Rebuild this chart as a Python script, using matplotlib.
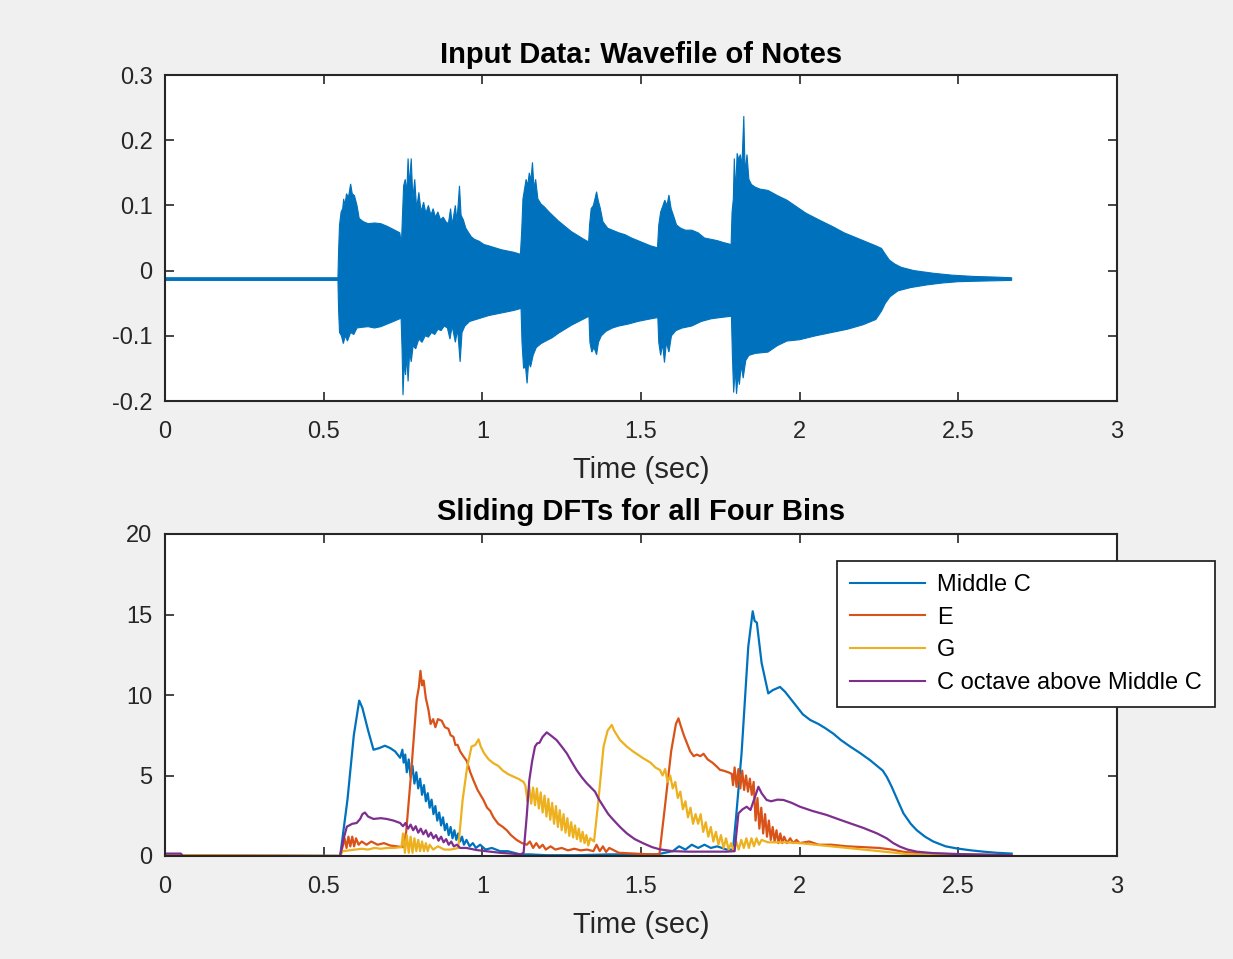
import matplotlib
matplotlib.use("Agg")
import matplotlib.pyplot as plt
import numpy as np

plt.rcParams['font.family'] = ['Liberation Sans', 'DejaVu Sans']

# ---------------- Data: waveform envelope ----------------
wave_up_t = [0.000, 0.545, 0.547, 0.550, 0.555, 0.560, 0.563, 0.567, 0.572, 0.578, 0.585, 0.590, 0.597, 0.605,
             0.612, 0.625, 0.640, 0.660, 0.680, 0.700, 0.720, 0.740, 0.745, 0.748, 0.752, 0.757, 0.762, 0.766,
             0.770, 0.776, 0.781, 0.787, 0.793, 0.800, 0.807, 0.815, 0.822, 0.830, 0.838, 0.845, 0.852, 0.860,
             0.868, 0.877, 0.885, 0.893, 0.900, 0.905, 0.915, 0.920, 0.928, 0.933, 0.940, 0.948, 0.957, 0.965,
             0.975, 0.990, 1.005, 1.020, 1.040, 1.060, 1.080, 1.100, 1.120, 1.124, 1.128, 1.133, 1.138, 1.143,
             1.148, 1.153, 1.158, 1.163, 1.168, 1.175, 1.185, 1.195, 1.210, 1.225, 1.240, 1.260, 1.280, 1.300,
             1.320, 1.335, 1.338, 1.343, 1.350, 1.355, 1.360, 1.365, 1.372, 1.380, 1.395, 1.410, 1.430, 1.450,
             1.470, 1.490, 1.510, 1.530, 1.552, 1.556, 1.562, 1.568, 1.575, 1.582, 1.588, 1.595, 1.602, 1.612,
             1.625, 1.640, 1.660, 1.680, 1.700, 1.720, 1.740, 1.760, 1.784, 1.787, 1.791, 1.794, 1.798, 1.803,
             1.808, 1.813, 1.818, 1.824, 1.828, 1.834, 1.840, 1.848, 1.860, 1.875, 1.900, 1.930, 1.960, 1.990,
             2.020, 2.060, 2.106, 2.140, 2.180, 2.200, 2.240, 2.258, 2.270, 2.283, 2.300, 2.320, 2.360, 2.420,
             2.480, 2.550, 2.620, 2.668]
wave_up_v = [-0.011, -0.011, 0.030, 0.070, 0.090, 0.095, 0.110, 0.100, 0.118, 0.112, 0.133, 0.118, 0.115, 0.100,
             0.080, 0.075, 0.072, 0.073, 0.072, 0.068, 0.063, 0.058, 0.040, 0.080, 0.130, 0.140, 0.120, 0.172,
             0.130, 0.172, 0.110, 0.140, 0.095, 0.120, 0.090, 0.105, 0.088, 0.100, 0.085, 0.095, 0.082, 0.090,
             0.078, 0.082, 0.075, 0.072, 0.095, 0.070, 0.100, 0.075, 0.130, 0.085, 0.078, 0.065, 0.058, 0.052,
             0.048, 0.045, 0.040, 0.038, 0.035, 0.032, 0.030, 0.028, 0.025, 0.060, 0.110, 0.125, 0.140, 0.130,
             0.150, 0.138, 0.166, 0.125, 0.140, 0.110, 0.102, 0.098, 0.090, 0.083, 0.076, 0.068, 0.060, 0.054,
             0.048, 0.044, 0.070, 0.095, 0.100, 0.110, 0.121, 0.108, 0.095, 0.075, 0.065, 0.062, 0.058, 0.055,
             0.050, 0.046, 0.042, 0.038, 0.035, 0.070, 0.090, 0.098, 0.108, 0.100, 0.116, 0.095, 0.085, 0.070,
             0.065, 0.062, 0.062, 0.058, 0.050, 0.048, 0.046, 0.043, 0.040, 0.090, 0.110, 0.172, 0.120, 0.180,
             0.170, 0.178, 0.160, 0.237, 0.150, 0.178, 0.140, 0.132, 0.128, 0.125, 0.123, 0.115, 0.108, 0.098,
             0.088, 0.078, 0.067, 0.058, 0.050, 0.046, 0.038, 0.034, 0.025, 0.016, 0.010, 0.005, 0.000, -0.004,
             -0.007, -0.009, -0.010, -0.011]

wave_lo_t = [0.000, 0.545, 0.547, 0.550, 0.556, 0.562, 0.568, 0.575, 0.585, 0.595, 0.605, 0.620, 0.640, 0.660,
             0.680, 0.700, 0.720, 0.744, 0.747, 0.750, 0.754, 0.758, 0.762, 0.766, 0.771, 0.776, 0.782, 0.790,
             0.800, 0.810, 0.820, 0.830, 0.840, 0.850, 0.860, 0.870, 0.880, 0.890, 0.898, 0.905, 0.915, 0.922,
             0.930, 0.936, 0.945, 0.960, 0.980, 1.000, 1.020, 1.050, 1.080, 1.100, 1.122, 1.125, 1.130, 1.136,
             1.141, 1.146, 1.152, 1.160, 1.170, 1.185, 1.200, 1.220, 1.240, 1.260, 1.280, 1.300, 1.320, 1.336,
             1.339, 1.345, 1.352, 1.360, 1.366, 1.375, 1.390, 1.410, 1.430, 1.460, 1.490, 1.520, 1.553, 1.556,
             1.562, 1.568, 1.574, 1.580, 1.588, 1.596, 1.610, 1.630, 1.660, 1.690, 1.720, 1.750, 1.785, 1.788,
             1.792, 1.797, 1.801, 1.806, 1.810, 1.816, 1.822, 1.830, 1.840, 1.860, 1.880, 1.900, 1.930, 1.960,
             2.000, 2.050, 2.100, 2.150, 2.200, 2.240, 2.258, 2.270, 2.285, 2.310, 2.350, 2.400, 2.450, 2.500,
             2.580, 2.668]
wave_lo_v = [-0.015, -0.015, -0.060, -0.095, -0.100, -0.112, -0.100, -0.108, -0.095, -0.098, -0.088, -0.087,
             -0.086, -0.088, -0.086, -0.082, -0.078, -0.073, -0.120, -0.191, -0.140, -0.160, -0.130, -0.170,
             -0.125, -0.140, -0.115, -0.120, -0.105, -0.110, -0.100, -0.102, -0.095, -0.098, -0.090, -0.092,
             -0.085, -0.088, -0.105, -0.085, -0.110, -0.090, -0.140, -0.095, -0.085, -0.078, -0.075, -0.072,
             -0.069, -0.066, -0.063, -0.061, -0.058, -0.110, -0.150, -0.147, -0.173, -0.140, -0.148, -0.130,
             -0.118, -0.112, -0.108, -0.103, -0.096, -0.090, -0.084, -0.079, -0.074, -0.070, -0.110, -0.125,
             -0.118, -0.129, -0.110, -0.100, -0.093, -0.088, -0.085, -0.082, -0.078, -0.075, -0.072, -0.110,
             -0.130, -0.112, -0.141, -0.110, -0.125, -0.100, -0.092, -0.088, -0.085, -0.078, -0.074, -0.072,
             -0.070, -0.130, -0.187, -0.150, -0.189, -0.160, -0.175, -0.145, -0.165, -0.138, -0.130, -0.127,
             -0.126, -0.125, -0.115, -0.108, -0.106, -0.100, -0.095, -0.090, -0.083, -0.075, -0.062, -0.050,
             -0.040, -0.031, -0.026, -0.022, -0.019, -0.017, -0.016, -0.015]

# ---------------- Data: sliding DFT magnitudes ----------------
labels = ['Middle C', 'E', 'G', 'C octave above Middle C']

c_t = [0.000, 0.050, 0.055, 0.552, 0.575, 0.595, 0.612, 0.622, 0.640, 0.657, 0.675, 0.693, 0.710, 0.725, 0.741,
       0.748, 0.752, 0.757, 0.762, 0.768, 0.774, 0.780, 0.786, 0.792, 0.798, 0.804, 0.810, 0.816, 0.822, 0.828,
       0.834, 0.840, 0.846, 0.852, 0.858, 0.864, 0.870, 0.876, 0.882, 0.888, 0.894, 0.900, 0.906, 0.912, 0.918,
       0.924, 0.930, 0.936, 0.942, 0.950, 0.960, 0.970, 0.980, 0.993, 1.010, 1.030, 1.056, 1.080, 1.120, 1.150,
       1.200, 1.300, 1.400, 1.550, 1.600, 1.620, 1.640, 1.660, 1.680, 1.700, 1.720, 1.740, 1.770, 1.790, 1.800,
       1.817, 1.838, 1.852, 1.858, 1.865, 1.880, 1.901, 1.915, 1.938, 1.954, 1.970, 1.990, 2.010, 2.033, 2.059,
       2.080, 2.106, 2.130, 2.159, 2.190, 2.222, 2.262, 2.275, 2.290, 2.310, 2.327, 2.350, 2.369, 2.395, 2.421,
       2.460, 2.495, 2.540, 2.579, 2.620, 2.668]
c_v = [0.10, 0.10, 0.0, 0.0, 3.5, 7.5, 9.65, 9.2, 7.8, 6.6, 6.7, 6.85, 6.7, 6.5, 6.1,
       6.6, 5.8, 6.3, 5.2, 6.0, 4.9, 5.6, 4.5, 5.2, 4.2, 4.8, 3.8, 4.4, 3.4, 3.9,
       3.0, 3.5, 2.6, 3.1, 2.2, 2.7, 1.9, 2.4, 1.6, 2.0, 1.3, 1.8, 1.1, 1.6, 1.0,
       1.4, 0.9, 1.2, 0.7, 1.0, 0.6, 0.8, 0.5, 0.7, 0.4, 0.5, 0.3, 0.3, 0.1, 0.1,
       0.05, 0.05, 0.1, 0.1, 0.3, 0.6, 0.4, 0.7, 0.5, 0.7, 0.5, 0.6, 0.4, 0.4, 2.5,
       6.4, 13.0, 15.2, 14.6, 14.5, 12.0, 10.1, 10.3, 10.5, 10.2, 9.8, 9.3, 8.8, 8.45, 8.2,
       7.95, 7.6, 7.2, 6.8, 6.4, 5.95, 5.3, 4.9, 4.3, 3.4, 2.65, 2.0, 1.6, 1.2, 0.9,
       0.6, 0.47, 0.35, 0.27, 0.2, 0.15]

e_t = [0.000, 0.552, 0.560, 0.566, 0.572, 0.578, 0.584, 0.590, 0.596, 0.602, 0.610, 0.620, 0.635, 0.650, 0.670,
       0.690, 0.710, 0.730, 0.750, 0.760, 0.775, 0.793, 0.800, 0.805, 0.810, 0.815, 0.822, 0.830, 0.837, 0.845,
       0.852, 0.860, 0.872, 0.882, 0.893, 0.900, 0.909, 0.915, 0.922, 0.930, 0.940, 0.951, 0.962, 0.972, 0.985,
       1.003, 1.015, 1.025, 1.035, 1.050, 1.065, 1.077, 1.090, 1.108, 1.125, 1.140, 1.150, 1.160, 1.170, 1.180,
       1.190, 1.200, 1.215, 1.230, 1.250, 1.270, 1.290, 1.310, 1.330, 1.350, 1.360, 1.370, 1.380, 1.390, 1.400,
       1.430, 1.480, 1.530, 1.558, 1.575, 1.595, 1.610, 1.618, 1.625, 1.635, 1.645, 1.655, 1.666, 1.676, 1.687,
       1.697, 1.710, 1.725, 1.739, 1.749, 1.760, 1.775, 1.786, 1.790, 1.795, 1.801, 1.807, 1.813, 1.819, 1.825,
       1.831, 1.837, 1.843, 1.849, 1.855, 1.861, 1.867, 1.873, 1.879, 1.885, 1.891, 1.897, 1.903, 1.909, 1.915,
       1.921, 1.927, 1.933, 1.939, 1.945, 1.951, 1.960, 1.970, 1.980, 1.990, 2.000, 2.030, 2.060, 2.100, 2.150,
       2.200, 2.250, 2.290, 2.330, 2.380, 2.420, 2.500, 2.668]
e_v = [0.05, 0.0, 0.6, 1.1, 0.5, 1.2, 0.6, 1.2, 0.6, 1.1, 0.7, 0.9, 0.7, 0.9, 0.7,
       0.8, 0.65, 0.6, 0.55, 1.5, 5.0, 9.7, 10.5, 11.5, 10.6, 10.9, 9.8, 9.1, 8.2, 8.5,
       8.0, 8.5, 8.4, 8.0, 7.9, 7.5, 7.4, 6.9, 6.9, 6.5, 6.2, 5.9, 5.2, 4.7, 4.1,
       3.5, 3.0, 2.8, 2.4, 2.0, 1.8, 1.6, 1.3, 1.0, 0.8, 0.7, 0.9, 0.5, 0.8, 0.5,
       0.7, 0.4, 0.6, 0.4, 0.5, 0.35, 0.45, 0.35, 0.4, 0.3, 0.7, 0.3, 0.6, 0.25, 0.5,
       0.2, 0.15, 0.1, 0.1, 3.0, 6.5, 8.2, 8.55, 8.1, 7.5, 7.0, 6.5, 6.2, 6.3, 6.2,
       6.35, 6.0, 5.8, 5.55, 5.35, 5.3, 5.2, 5.1, 4.4, 5.5, 4.3, 5.4, 4.2, 5.3, 4.1,
       5.0, 4.0, 4.8, 3.8, 4.6, 2.2, 3.6, 1.7, 3.0, 1.4, 2.6, 1.2, 2.2, 1.0, 1.8,
       0.9, 1.6, 0.8, 1.4, 0.8, 1.2, 0.8, 1.1, 0.8, 1.0, 0.8, 0.9, 0.7, 0.7, 0.6,
       0.55, 0.5, 0.4, 0.25, 0.18, 0.15, 0.1, 0.05]

g_t = [0.000, 0.552, 0.560, 0.580, 0.600, 0.620, 0.640, 0.660, 0.680, 0.700, 0.720, 0.745, 0.750, 0.756, 0.762,
       0.768, 0.774, 0.780, 0.786, 0.792, 0.798, 0.804, 0.810, 0.816, 0.822, 0.828, 0.834, 0.845, 0.860, 0.880,
       0.900, 0.924, 0.938, 0.952, 0.966, 0.978, 0.988, 0.995, 1.005, 1.020, 1.035, 1.050, 1.065, 1.080, 1.098,
       1.113, 1.130, 1.136, 1.142, 1.148, 1.154, 1.160, 1.166, 1.172, 1.178, 1.184, 1.190, 1.196, 1.202, 1.208,
       1.214, 1.220, 1.226, 1.232, 1.238, 1.244, 1.250, 1.256, 1.262, 1.268, 1.274, 1.280, 1.286, 1.292, 1.298,
       1.304, 1.310, 1.316, 1.322, 1.328, 1.334, 1.340, 1.352, 1.366, 1.382, 1.395, 1.408, 1.415, 1.434, 1.455,
       1.476, 1.507, 1.530, 1.545, 1.560, 1.568, 1.576, 1.584, 1.592, 1.600, 1.608, 1.616, 1.624, 1.632, 1.640,
       1.648, 1.656, 1.664, 1.672, 1.680, 1.688, 1.696, 1.704, 1.712, 1.720, 1.728, 1.736, 1.744, 1.752, 1.760,
       1.768, 1.776, 1.784, 1.792, 1.800, 1.808, 1.816, 1.824, 1.832, 1.840, 1.848, 1.856, 1.864, 1.872, 1.880,
       1.900, 1.950, 2.000, 2.050, 2.100, 2.150, 2.200, 2.250, 2.300, 2.350, 2.668]
g_v = [0.05, 0.0, 0.3, 0.35, 0.4, 0.45, 0.4, 0.5, 0.45, 0.5, 0.5, 0.55, 1.4, 0.2, 1.3,
       0.2, 1.2, 0.2, 1.1, 0.3, 1.0, 0.3, 0.9, 0.3, 0.8, 0.3, 0.7, 0.4, 0.6, 0.4,
       0.4, 0.5, 3.5, 5.5, 6.8, 6.9, 7.25, 6.8, 6.4, 6.0, 5.76, 5.6, 5.3, 5.1, 4.93,
       4.8, 4.6, 4.35, 3.40, 4.30, 3.25, 4.25, 3.15, 4.20, 2.95, 3.95, 2.70, 3.75, 2.45, 3.55,
       2.25, 3.30, 2.00, 3.10, 1.80, 2.85, 1.60, 2.60, 1.45, 2.35, 1.25, 2.10, 1.15, 1.90, 1.05,
       1.70, 0.90, 1.50, 0.80, 1.30, 0.65, 1.10, 0.9, 3.5, 6.8, 7.8, 8.14, 7.8, 7.2, 6.8,
       6.48, 6.07, 5.8, 5.5, 5.34, 5.0, 5.4, 4.6, 5.0, 4.2, 4.6, 3.6, 4.0, 2.9, 3.4,
       2.4, 3.0, 2.0, 2.6, 2.0, 2.6, 1.5, 2.1, 1.2, 1.8, 0.9, 1.5, 0.7, 1.3, 0.5,
       1.1, 0.4, 0.8, 0.3, 0.9, 0.4, 1.0, 0.5, 1.1, 0.5, 1.1, 0.6, 1.1, 0.7, 1.0,
       0.85, 0.85, 0.8, 0.7, 0.6, 0.5, 0.4, 0.3, 0.2, 0.1, 0.05]

h_t = [0.000, 0.050, 0.056, 0.552, 0.562, 0.573, 0.590, 0.604, 0.615, 0.622, 0.630, 0.640, 0.657, 0.680, 0.699,
       0.720, 0.741, 0.750, 0.758, 0.766, 0.774, 0.782, 0.790, 0.798, 0.806, 0.814, 0.822, 0.830, 0.838, 0.846,
       0.854, 0.862, 0.870, 0.878, 0.886, 0.894, 0.902, 0.910, 0.920, 0.930, 0.950, 0.982, 1.020, 1.056, 1.090,
       1.120, 1.130, 1.140, 1.148, 1.157, 1.166, 1.173, 1.180, 1.190, 1.203, 1.215, 1.234, 1.250, 1.266, 1.280,
       1.297, 1.313, 1.329, 1.340, 1.355, 1.368, 1.382, 1.397, 1.413, 1.434, 1.455, 1.480, 1.507, 1.535, 1.560,
       1.600, 1.650, 1.700, 1.770, 1.795, 1.807, 1.820, 1.833, 1.845, 1.858, 1.870, 1.880, 1.896, 1.910, 1.930,
       1.949, 1.975, 2.001, 2.040, 2.085, 2.120, 2.159, 2.200, 2.243, 2.274, 2.295, 2.316, 2.340, 2.369, 2.420,
       2.500, 2.668]
h_v = [0.15, 0.15, 0.0, 0.0, 1.0, 1.82, 2.0, 2.05, 2.3, 2.6, 2.7, 2.45, 2.3, 2.35, 2.3,
       2.2, 2.05, 1.85, 2.05, 1.7, 1.95, 1.6, 1.85, 1.45, 1.7, 1.35, 1.6, 1.2, 1.45, 1.1,
       1.3, 0.95, 1.2, 0.85, 1.05, 0.7, 0.9, 0.6, 0.7, 0.5, 0.5, 0.37, 0.28, 0.2, 0.15,
       0.1, 0.2, 2.5, 4.7, 5.9, 6.8, 7.0, 7.03, 7.4, 7.68, 7.5, 7.2, 6.8, 6.38, 5.9,
       5.34, 4.9, 4.52, 4.3, 4.0, 3.5, 3.06, 2.6, 2.24, 1.8, 1.41, 1.05, 0.79, 0.55, 0.41,
       0.3, 0.27, 0.27, 0.27, 0.3, 2.65, 2.9, 3.06, 2.86, 3.6, 4.3, 3.9, 3.48, 3.4, 3.5,
       3.48, 3.3, 3.06, 2.8, 2.55, 2.3, 2.03, 1.75, 1.41, 1.1, 0.8, 0.58, 0.4, 0.27, 0.18,
       0.12, 0.05]

xticks = [0, 0.5, 1, 1.5, 2, 2.5, 3]
xtick_labels = ['0', '0.5', '1', '1.5', '2', '2.5', '3']
yticks1 = [-0.2, -0.1, 0, 0.1, 0.2, 0.3]
ytick_labels1 = ['-0.2', '-0.1', '0', '0.1', '0.2', '0.3']
yticks2 = [0, 5, 10, 15, 20]
ytick_labels2 = ['0', '5', '10', '15', '20']

colors = ['#0072BD', '#D95319', '#EDB120', '#7E2F8E']
axcol = '#262626'

W, H = 1233, 959
fig = plt.figure(figsize=(W / 100, H / 100), dpi=100, facecolor='#f0f0f0')

def px_axes(l, t, r, b):
    return fig.add_axes([l / W, 1 - b / H, (r - l) / W, (b - t) / H])

ax1 = px_axes(165, 75, 1117, 401)
ax2 = px_axes(165, 534, 1117, 856)

def style(ax):
    ax.set_facecolor('white')
    for s in ax.spines.values():
        s.set_color(axcol)
        s.set_linewidth(1.5)
    ax.tick_params(direction='in', length=6.5, width=1.2, colors=axcol, labelsize=17,
                   top=True, right=True)
    ax.tick_params(axis='x', pad=14.5)
    ax.tick_params(axis='y', pad=9)
    ax.set_xlim(0, 3)
    ax.set_xticks(xticks)
    ax.set_xticklabels(xtick_labels)
    ax.set_xlabel('Time (sec)', fontsize=21, color=axcol, labelpad=9.5)

style(ax1)
poly_t = list(wave_up_t) + list(wave_lo_t[::-1])
poly_v = list(wave_up_v) + list(wave_lo_v[::-1])
ax1.fill(poly_t, poly_v, facecolor=colors[0], edgecolor=colors[0], linewidth=0.8)
ax1.set_ylim(-0.2, 0.3)
ax1.set_yticks(yticks1)
ax1.set_yticklabels(ytick_labels1)
ax1.set_title('Input Data: Wavefile of Notes', fontsize=21, fontweight='bold', color='black', pad=8.5)

style(ax2)
series = [(c_t, c_v), (e_t, e_v), (g_t, g_v), (h_t, h_v)]
for (tt, vv), col, lab in zip(series, colors, labels):
    ax2.plot(tt, vv, color=col, lw=1.6, label=lab)
ax2.set_ylim(0, 20)
ax2.set_yticks(yticks2)
ax2.set_yticklabels(ytick_labels2)
ax2.set_title('Sliding DFTs for all Four Bins', fontsize=21, fontweight='bold', color='black', pad=10)

leg = ax2.legend(loc='upper right', bbox_to_anchor=(1215 / W, 1 - 561 / H), bbox_transform=fig.transFigure,
                 fontsize=17, frameon=True, fancybox=False, borderaxespad=0, borderpad=0.55,
                 handlelength=3.2, handletextpad=0.5, labelspacing=0.45)
leg.get_frame().set_edgecolor(axcol)
leg.get_frame().set_linewidth(1.3)
leg.get_frame().set_alpha(1)
for txt in leg.get_texts():
    txt.set_color('black')
for ln in leg.get_lines():
    ln.set_linewidth(1.5)

fig.savefig('out.png', dpi=100, facecolor=fig.get_facecolor())
